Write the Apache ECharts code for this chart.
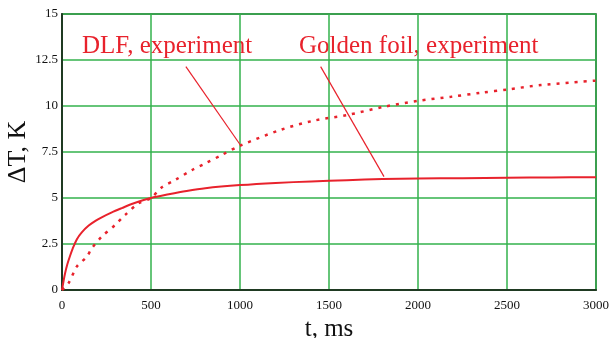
<!DOCTYPE html>
<html><head><meta charset="utf-8">
<script src="https://cdn.jsdelivr.net/npm/echarts@6/dist/echarts.min.js"></script>
<style>html,body{margin:0;padding:0;background:#fff}#c{width:610px;height:338px}</style>
</head><body><div id="c"></div>
<script>
const xTicks = [0, 500, 1000, 1500, 2000, 2500, 3000];
const yTicks = [0, 2.5, 5, 7.5, 10, 12.5, 15];
const goldenFoil = [[0,0],[8,0.45],[17,0.9],[30,1.4],[45,1.85],[60,2.25],[83,2.75],[110,3.12],[150,3.5],[190,3.77],[223,3.95],[280,4.22],[336,4.45],[400,4.7],[500,5.0],[600,5.2],[700,5.38],[805,5.53],[1000,5.7],[1200,5.82],[1400,5.9],[1600,5.97],[1800,6.03],[2000,6.06],[2250,6.08],[2500,6.1],[2750,6.12],[3000,6.13]];
const dlf = [[0,0],[36,0.36],[83,1.27],[139,1.81],[167,2.26],[223,2.9],[298,3.53],[355,4.08],[430,4.71],[500,5.0],[561,5.58],[636,5.98],[730,6.52],[805,6.88],[900,7.35],[1002,7.85],[1227,8.7],[1413,9.2],[1603,9.51],[1809,9.96],[2006,10.29],[2185,10.5],[2354,10.72],[2504,10.9],[2691,11.14],[3000,11.38]];
const dlfPointer = [[696,12.14],[1002,7.88]];
const goldPointer = [[1453,12.14],[1809,6.16]];
const labels = ['DLF, experiment', 'Golden foil, experiment'];

const red = '#e8222c';
const serif = '"Liberation Serif", "DejaVu Serif", serif';
const chart = echarts.init(document.getElementById('c'));
chart.setOption({
  animation: false,
  grid: {left: 62, right: 14, top: 14, bottom: 48, show: true, borderColor: '#1f3a22', borderWidth: 1.5,
         containLabel: false, outerBoundsMode: 'none'},
  xAxis: {
    type: 'value', min: 0, max: 3000, interval: 500,
    name: 't, ms', nameLocation: 'middle', nameGap: 24,
    nameTextStyle: {fontFamily: serif, fontSize: 25, color: '#111'},
    axisLine: {lineStyle: {color: '#1f3a22', width: 2}},
    axisTick: {show: false},
    axisLabel: {fontFamily: serif, fontSize: 13, color: '#111', margin: 9,
                formatter: v => xTicks.includes(v) ? String(v) : ''},
    splitLine: {lineStyle: {color: '#33b24c', width: 1.5}}
  },
  yAxis: {
    type: 'value', min: 0, max: 15, interval: 2.5,
    name: 'ΔT, K', nameLocation: 'middle', nameGap: 31, nameMoveOverlap: false,
    nameTextStyle: {fontFamily: serif, fontSize: 26, color: '#111'},
    axisLine: {lineStyle: {color: '#1f3a22', width: 2}},
    axisTick: {show: false},
    axisLabel: {fontFamily: serif, fontSize: 13, color: '#111', margin: 4,
                formatter: v => yTicks.includes(v) ? String(v) : ''},
    splitLine: {lineStyle: {color: '#33b24c', width: 1.5}}
  },
  series: [
    {type: 'line', data: goldenFoil, smooth: 0.3, symbol: 'none',
     lineStyle: {color: red, width: 2}, z: 3,
     markLine: {symbol: 'none', silent: true, label: {show: false},
       lineStyle: {color: red, width: 1.2, type: 'solid'},
       data: [[{coord: goldPointer[0]}, {coord: goldPointer[1]}]]}},
    {type: 'line', data: dlf, smooth: 0.3, symbol: 'none',
     lineStyle: {color: red, width: 2.5, type: [3, 6]}, z: 3,
     markLine: {symbol: 'none', silent: true, label: {show: false},
       lineStyle: {color: red, width: 1.2, type: 'solid'},
       data: [[{coord: dlfPointer[0]}, {coord: dlfPointer[1]}]]}}
  ],
  graphic: [
    {type: 'text', left: 82, top: 34, style: {text: labels[0], fill: red, font: '25px ' + serif}},
    {type: 'text', left: 299, top: 34, style: {text: labels[1], fill: red, font: '25px ' + serif}}
  ]
});
</script></body></html>
